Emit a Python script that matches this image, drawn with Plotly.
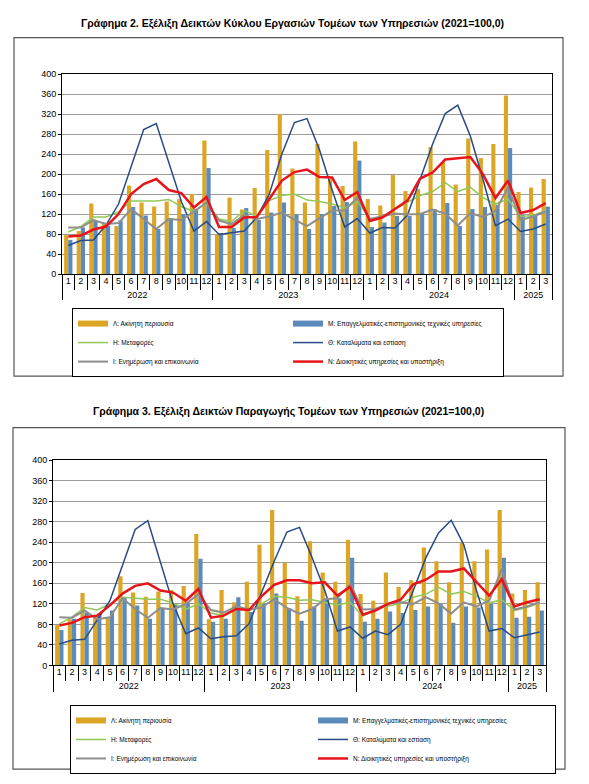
import plotly.graph_objects as go

W, H = 589, 784

# ---------------- categories ----------------
year_labels = ["2022", "2023", "2024", "2025"]
months_per_year = [12, 12, 12, 3]
years = [y for y, n in zip(year_labels, months_per_year) for _ in range(n)]
months = [str(m) for n in months_per_year for m in range(1, n + 1)]
x_cat = [years, months]

series_names = [
    "Λ: Ακίνητη περιουσία",
    "Μ: Επαγγελματικές-επιστημονικές τεχνικές υπηρεσίες",
    "Η: Μεταφορές",
    "Θ: Καταλύματα και εστίαση",
    "Ι: Ενημέρωση και επικοινωνία",
    "Ν: Διοικητικές υπηρεσίες και υποστήριξη",
]

title1 = "Γράφημα 2. Εξέλιξη Δεικτών Κύκλου Εργασιών Τομέων των Υπηρεσιών (2021=100,0)"
title2 = "Γράφημα 3. Εξέλιξη Δεικτών Παραγωγής Τομέων των Υπηρεσιών (2021=100,0)"

# ---------------- Chart 2: turnover ----------------
turn_L = [78, 86, 141, 102, 96, 177, 143, 135, 145, 150, 160, 267,
          80, 153, 129, 172, 248, 320, 211, 143, 260, 190, 176, 265,
          150, 137, 198, 166, 170, 254, 223, 179, 271, 232, 260, 357,
          164, 173, 190]
turn_M = [68, 93, 106, 96, 107, 134, 117, 90, 112, 120, 130, 212,
          82, 92, 132, 108, 123, 143, 119, 90, 120, 136, 144, 227,
          94, 103, 116, 116, 122, 130, 142, 96, 130, 134, 138, 252,
          118, 119, 135]
turn_H = [84, 95, 114, 114, 124, 146, 146, 146, 149, 135, 125, 142,
          110, 105, 127, 116, 147, 157, 160, 148, 145, 140, 132, 145,
          110, 114, 130, 143, 157, 165, 183, 165, 174, 153, 140, 150,
          115, 117, 127]
turn_TH = [57, 67, 68, 98, 140, 213, 289, 301, 225, 145, 86, 105,
           79, 83, 86, 113, 160, 240, 303, 311, 248, 168, 94, 111,
           82, 93, 92, 118, 190, 260, 321, 338, 276, 190, 97, 110,
           85, 90, 100]
turn_I = [93, 93, 108, 100, 102, 130, 110, 90, 110, 108, 125, 143,
          107, 100, 118, 110, 115, 123, 109, 96, 112, 127, 127, 153,
          110, 116, 121, 119, 120, 129, 121, 97, 122, 114, 126, 173,
          108, 115, 125]
turn_N = [75, 77, 89, 95, 120, 160, 180, 190, 168, 162, 133, 154,
          94, 94, 113, 114, 150, 187, 204, 209, 194, 193, 148, 164,
          106, 113, 130, 147, 191, 203, 229, 231, 234, 200, 152, 187,
          122, 128, 142]

# ---------------- Chart 3: production ----------------
prod_L = [79, 90, 141, 99, 93, 174, 142, 134, 144, 147, 155, 256,
          90, 147, 123, 163, 235, 303, 200, 135, 242, 181, 163, 245,
          139, 126, 181, 153, 166, 230, 203, 162, 240, 203, 226, 303,
          140, 147, 162]
prod_M = [69, 91, 103, 101, 107, 133, 117, 91, 112, 120, 123, 208,
          85, 91, 133, 104, 120, 140, 112, 87, 115, 128, 131, 210,
          85, 91, 105, 102, 108, 115, 120, 83, 115, 113, 120, 210,
          93, 95, 107]
prod_H = [81, 94, 113, 108, 120, 133, 131, 129, 129, 122, 109, 120,
          102, 97, 113, 106, 120, 135, 133, 127, 128, 123, 118, 123,
          96, 110, 115, 121, 133, 139, 152, 139, 144, 135, 122, 128,
          107, 113, 122]
prod_TH = [42, 49, 51, 88, 126, 195, 265, 282, 200, 120, 62, 73,
           52, 56, 58, 81, 142, 203, 260, 269, 210, 146, 67, 75,
           53, 67, 60, 80, 146, 210, 258, 283, 235, 146, 67, 72,
           54, 59, 65]
prod_I = [94, 93, 107, 90, 94, 131, 110, 93, 112, 109, 120, 139,
          108, 103, 115, 109, 113, 129, 112, 101, 110, 129, 131, 158,
          109, 110, 120, 123, 120, 133, 121, 101, 123, 115, 126, 188,
          109, 115, 123]
prod_N = [78, 83, 94, 97, 117, 140, 155, 160, 146, 142, 126, 149,
          93, 97, 110, 108, 135, 157, 166, 166, 160, 162, 136, 153,
          99, 107, 120, 128, 158, 167, 183, 183, 189, 162, 136, 168,
          115, 123, 129]

y_ticks = [0, 40, 80, 120, 160, 200, 240, 280, 320, 360, 400]

# ---------------- styles ----------------
YEL = "#DCA523"
BLU = "#5A8BBA"
GRN = "#92C95A"
NAV = "#274B85"
GRY = "#8E8E8E"
RED = "#E8141B"
FONT = "Liberation Sans"


def px(p):
    return p / W


def py(p):
    return 1 - p / H


fig = go.Figure()


def add_panel(xa, ya, leg, L, M, Hs, TH, I, N):
    fig.add_trace(go.Bar(x=x_cat, y=L, marker=dict(color=YEL, line_width=0),
                         xaxis=xa, yaxis=ya, showlegend=False, name=series_names[0]))
    fig.add_trace(go.Bar(x=x_cat, y=M, marker=dict(color=BLU, line_width=0),
                         xaxis=xa, yaxis=ya, showlegend=False, name=series_names[1]))
    # legend entries for the bars (drawn as wide strokes like the original)
    for nm, col in [(series_names[0], YEL), (series_names[1], BLU)]:
        fig.add_trace(go.Scatter(x=x_cat, y=[None] * len(months), mode="lines",
                                 line=dict(color=col, width=6), name=nm,
                                 legend=leg, xaxis=xa, yaxis=ya, hoverinfo="skip"))
    for nm, vals, col, w in [(series_names[2], Hs, GRN, 1.5),
                             (series_names[3], TH, NAV, 1.5),
                             (series_names[4], I, GRY, 2),
                             (series_names[5], N, RED, 2.5)]:
        fig.add_trace(go.Scatter(x=x_cat, y=vals, mode="lines",
                                 line=dict(color=col, width=w), name=nm,
                                 legend=leg, xaxis=xa, yaxis=ya))


add_panel("x", "y", "legend", turn_L, turn_M, turn_H, turn_TH, turn_I, turn_N)
add_panel("x2", "y2", "legend2", prod_L, prod_M, prod_H, prod_TH, prod_I, prod_N)

xcommon = dict(type="multicategory", showline=True, linecolor="black", linewidth=1,
               mirror=True, ticks="outside", ticklen=15, tickcolor="black", tickwidth=1,
               ticklabelstandoff=-2, tickangle=0,
               showgrid=False, tickfont=dict(size=9, family=FONT, color="black"),
               dividercolor="black", dividerwidth=1)
ycommon = dict(range=[0, 400], tickvals=y_ticks, showline=True, linecolor="black",
               linewidth=1, mirror=True, ticks="outside", ticklen=3, tickcolor="black",
               gridcolor="#9C9C9C", gridwidth=1, zeroline=False,
               tickfont=dict(size=9, family=FONT, color="black"))

legcommon = dict(orientation="h", xanchor="left", yanchor="top", bordercolor="black",
                 borderwidth=1, bgcolor="white", entrywidthmode="pixels",
                 font=dict(size=6.5, family=FONT, color="black"), tracegroupgap=0)

fig.update_layout(
    width=W, height=H, margin=dict(l=0, r=0, t=0, b=0),
    paper_bgcolor="white", plot_bgcolor="white",
    barmode="group", bargap=0.34, bargroupgap=0,
    font=dict(family=FONT, size=9, color="black"),
    xaxis=dict(domain=[px(62), px(552)], anchor="y", **xcommon),
    yaxis=dict(domain=[py(272.5), py(70)], anchor="x", **ycommon),
    xaxis2=dict(domain=[px(53), px(546)], anchor="y2", **xcommon),
    yaxis2=dict(domain=[py(669), py(461)], anchor="x2", **ycommon),
    legend=dict(x=px(72), y=py(307), entrywidth=170, **legcommon),
    legend2=dict(x=px(70), y=py(709), entrywidth=197, **legcommon),
    shapes=[
        dict(type="rect", xref="paper", yref="paper", x0=px(14), x1=px(563),
             y0=py(376), y1=py(33), line=dict(color="#555555", width=1.2), layer="below"),
        dict(type="rect", xref="paper", yref="paper", x0=px(13), x1=px(565),
             y0=py(774), y1=py(428), line=dict(color="#555555", width=1.2), layer="below"),
    ],
    annotations=[
        dict(text="<b>" + title1 + "</b>", xref="paper", yref="paper", x=px(292), y=py(19),
             showarrow=False, font=dict(size=10.5, family=FONT, color="black"),
             xanchor="center", yanchor="middle"),
        dict(text="<b>" + title2 + "</b>", xref="paper", yref="paper", x=px(288), y=py(412),
             showarrow=False, font=dict(size=10.5, family=FONT, color="black"),
             xanchor="center", yanchor="middle"),
    ],
)

fig.write_html("out.html", config={"displayModeBar": False},
               post_script="document.body.style.margin='0';document.body.style.overflow='hidden';")
